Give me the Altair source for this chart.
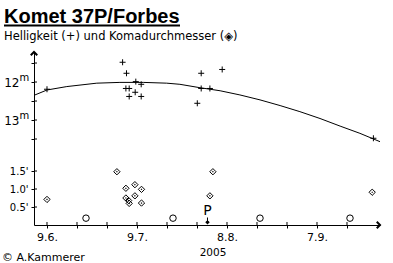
import altair as alt
import pandas as pd

# ---- data (days after 9 June 2005) ----
mag_day = [0, 25.2, 26.5, 29.6, 31.4, 26.3, 27.4, 29.4, 27.4, 31.4, 50.1, 51.4, 51.4, 54.3, 58.4, 108.8]
mag_val = [12.19, 11.48, 11.77, 11.99, 12.06, 12.17, 12.17, 12.27, 12.38, 12.38, 12.56, 11.77, 12.17, 12.17, 11.67, 13.48]

curve_day = [-4, 0, 6.6, 16.6, 24.3, 32.1, 39.9, 44.3, 51, 57.7, 64.3, 71, 77.7, 84.3, 91, 97.7, 104.3, 111]
curve_val = [12.34, 12.21, 12.12, 12.03, 12.01, 12.01, 12.03, 12.06, 12.15, 12.23, 12.34, 12.47, 12.62, 12.78, 12.96, 13.16, 13.35, 13.57]

coma_day = [0, 23.3, 26.3, 29.3, 31.5, 26.3, 27.2, 29.3, 27.4, 31.5, 55.3, 54.3, 108.4]
coma_val = [0.71, 1.48, 1.02, 1.12, 0.99, 0.75, 0.68, 0.81, 0.60, 0.61, 1.48, 0.81, 0.91]

moon_day = [13, 42, 71, 101]
moon_level = [0.19, 0.19, 0.19, 0.19]
perihel_day = [53.5]

x_ticks = [0, 10, 20, 30, 40, 50, 60, 70, 80, 90, 100]
x_tick_labels = {0: "9.6.", 30: "9.7.", 60: "8.8.", 90: "7.9."}
mag_ticks = [11.5, 12, 12.5, 13, 13.5]
mag_tick_labels = {12: "12", 13: "13"}
mag_sup = [12, 13]
diam_ticks = [0.5, 1.0, 1.5]

X_DOMAIN = [-4.333, 111]
MAG_DOMAIN = [11.21, 15.763]
DIAM_DOMAIN = [0, 4.806]

W, H = 346, 173
FONT = "DejaVu Sans"


def label_expr(mapping):
    expr = "''"
    for k, v in reversed(list(mapping.items())):
        expr = f"datum.value == {k} ? '{v}' : ({expr})"
    return expr


xscale = alt.Scale(domain=X_DOMAIN, nice=False, zero=False)
xaxis = alt.Axis(values=x_ticks, labelExpr=label_expr(x_tick_labels), tickSize=3,
                 labelPadding=3, title=None, grid=False, labelFontSize=11,
                 labelFont=FONT, domainColor="black", tickColor="black", labelColor="black")
X = alt.X("day:Q", scale=xscale, axis=xaxis)

magscale = alt.Scale(domain=MAG_DOMAIN, reverse=True, nice=False, zero=False)
magaxis = alt.Axis(values=mag_ticks, labelExpr=label_expr(mag_tick_labels), tickSize=3,
                   labelPadding=12, title=None, grid=False, orient="left", labelFontSize=12,
                   labelFont=FONT, domainColor="black", tickColor="black", labelColor="black")
diamscale = alt.Scale(domain=DIAM_DOMAIN, nice=False, zero=False)
diamaxis = alt.Axis(values=diam_ticks, labelExpr="format(datum.value, '.1f') + \"'\"",
                    tickSize=3, labelPadding=3, title=None, grid=False, orient="left",
                    domain=False, labelFontSize=10, labelFont=FONT,
                    tickColor="black", labelColor="black")

mag_df = pd.DataFrame({"day": mag_day, "mag": mag_val})
curve_df = pd.DataFrame({"day": curve_day, "mag": curve_val})
coma_df = pd.DataFrame({"day": coma_day, "diam": coma_val})
moon_df = pd.DataFrame({"day": moon_day, "diam": moon_level})
xt_df = pd.DataFrame({"day": x_ticks})
mt_df = pd.DataFrame({"mag": mag_ticks})
sup_df = pd.DataFrame({"mag": mag_sup, "m": ["m"] * len(mag_sup)})
dt_df = pd.DataFrame({"diam": diam_ticks})
per_df = pd.DataFrame({"day": perihel_day, "p": ["P"]})
end_df = pd.DataFrame({"day": [X_DOMAIN[1]]})

MY = alt.Y("mag:Q", scale=magscale, axis=magaxis)
DY = alt.Y("diam:Q", scale=diamscale, axis=diamaxis)

curve = alt.Chart(curve_df).mark_line(color="black", strokeWidth=1).encode(x=X, y=MY)
plus = alt.Chart(mag_df).mark_point(shape="M-1,0L1,0M0,-1L0,1", filled=False, size=36,
                                    color="black", strokeWidth=1, opacity=1).encode(x=X, y=MY)
mag_inner_ticks = alt.Chart(mt_df).mark_rule(color="black").encode(
    y=MY, x=alt.value(0), x2=alt.value(3))
sup = alt.Chart(sup_df).mark_text(font=FONT, fontSize=10, align="left", baseline="middle",
                                  dy=-4, color="black").encode(x=alt.value(-14.5), y=MY, text="m:N")
x_inner_ticks = alt.Chart(xt_df).mark_rule(color="black").encode(
    x=X, y=alt.value(H - 3), y2=alt.value(H))
x_arrow = alt.Chart(end_df).mark_point(shape="M-1,-1L0,0L-1,1", filled=False, size=42,
                                       color="black", opacity=1).encode(x=X, y=alt.value(H))
y_arrow = alt.Chart(end_df).mark_point(shape="M-1,1L0,0L1,1", filled=False, size=42,
                                       color="black", opacity=1).encode(x=alt.value(0), y=alt.value(0))
p_text = alt.Chart(per_df).mark_text(font=FONT, fontSize=14, baseline="alphabetic",
                                     color="black").encode(x=X, y=alt.value(163), text="p:N")
p_stem = alt.Chart(per_df).mark_rule(color="black").encode(
    x=X, y=alt.value(165.5), y2=alt.value(171))
p_head = alt.Chart(per_df).mark_point(shape="M-1,-1L0,0L1,-1", filled=False, size=9,
                                      color="black", opacity=1).encode(x=X, y=alt.value(171))

title_df = pd.DataFrame({"t": ["Komet 37P/Forbes"]})
sub_df = pd.DataFrame({"t": ["Helligkeit (+) und Komadurchmesser (◈)"]})
cred_df = pd.DataFrame({"t": ["© A.Kammerer"]})
year_df = pd.DataFrame({"t": ["2005"]})

title = alt.Chart(title_df).mark_text(font="Liberation Sans", fontWeight="bold", fontSize=20,
                                      align="left", baseline="alphabetic", color="black").encode(
    x=alt.value(-30), y=alt.value(-29.5), text="t:N")
underline = alt.Chart(title_df).mark_rule(color="black", strokeWidth=2).encode(
    x=alt.value(-30), x2=alt.value(146), y=alt.value(-26.5))
subtitle = alt.Chart(sub_df).mark_text(font=FONT, fontSize=11.5, align="left",
                                       baseline="alphabetic", color="black").encode(
    x=alt.value(-30), y=alt.value(-12), text="t:N")
credit = alt.Chart(cred_df).mark_text(font=FONT, fontSize=11, align="left",
                                      baseline="alphabetic", color="black").encode(
    x=alt.value(-32), y=alt.value(209), text="t:N")
year = alt.Chart(year_df).mark_text(font=FONT, fontSize=10.5, align="center",
                                    baseline="alphabetic", color="black").encode(
    x=alt.value(179), y=alt.value(204), text="t:N")

mag_layer = alt.layer(curve, plus, mag_inner_ticks, sup, x_inner_ticks, x_arrow, y_arrow,
                      p_text, p_stem, p_head, title, underline, subtitle, credit, year)

diamonds = alt.Chart(coma_df).mark_point(shape="M0,-1L1,0L0,1L-1,0Z", filled=False, size=40,
                                         color="black", strokeWidth=1, opacity=1).encode(x=X, y=DY)
dots = alt.Chart(coma_df).mark_point(shape="diamond", filled=True, size=3,
                                     color="black", opacity=1).encode(x=X, y=DY)
moons = alt.Chart(moon_df).mark_point(shape="circle", filled=False, size=42,
                                      color="black", strokeWidth=1, opacity=1).encode(x=X, y=DY)
diam_inner_ticks = alt.Chart(dt_df).mark_rule(color="black").encode(
    y=DY, x=alt.value(0), x2=alt.value(3))

diam_layer = alt.layer(diamonds, dots, moons, diam_inner_ticks)

chart = alt.layer(mag_layer, diam_layer).resolve_scale(y="independent").properties(
    width=W, height=H, autosize="none",
    padding={"left": 34, "top": 52, "right": 13, "bottom": 38},
    background="white",
).configure_view(stroke=None)

chart.save("out.html", embed_options={"renderer": "svg", "actions": False})
